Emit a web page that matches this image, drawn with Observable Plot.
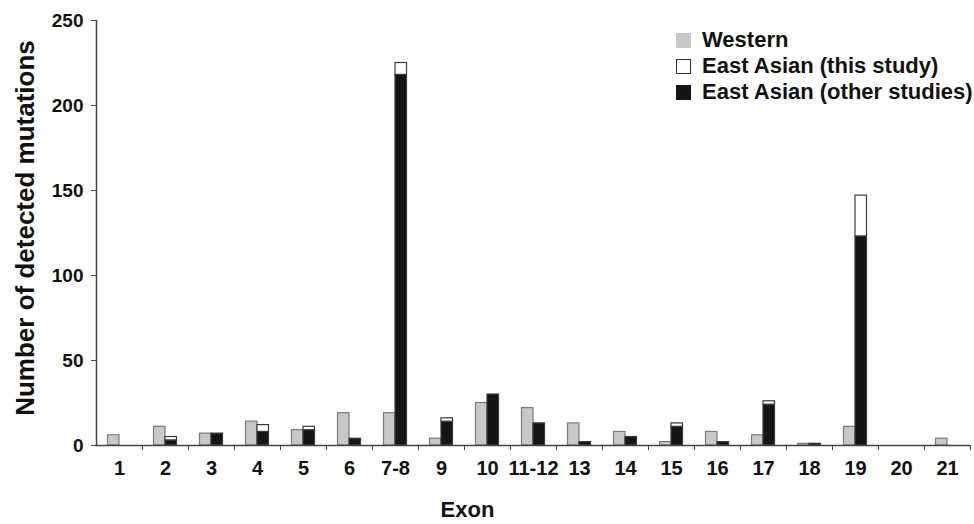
<!DOCTYPE html>
<html>
<head>
<meta charset="utf-8">
<script src="https://cdn.jsdelivr.net/npm/d3@7"></script>
<script src="https://cdn.jsdelivr.net/npm/@observablehq/plot@0.6"></script>
<style>
  html, body { margin: 0; padding: 0; background: #fff; overflow: hidden; }
  #wrap { position: relative; width: 974px; height: 524px; font-family: "Liberation Sans", Arial, sans-serif; }
  #legend { position: absolute; left: 676px; top: 27px; font-weight: bold; font-size: 22px; color: #111; white-space: nowrap; }
  .row { display: flex; align-items: center; height: 26px; }
  .sw { width: 15px; height: 15px; box-sizing: border-box; margin-right: 11px; }
</style>
</head>
<body>
<div id="wrap"></div>
<script>
// ---- data ----
const exons = ["1","2","3","4","5","6","7-8","9","10","11-12","13","14","15","16","17","18","19","20","21"];
const western      = [6, 11, 7, 14, 9, 19, 19, 4, 25, 22, 13, 8, 2, 8, 6, 1, 11, 0, 4];
const otherStudies = [0, 3, 7, 8, 9, 4, 218, 14, 30, 13, 2, 5, 11, 2, 24, 1, 123, 0, 0];
const thisStudy    = [0, 2, 0, 4, 2, 0, 7, 2, 0, 0, 0, 0, 2, 0, 2, 0, 24, 0, 0];
const yTicks = [0, 50, 100, 150, 200, 250];
const seriesNames = ["Western", "East Asian (this study)", "East Asian (other studies)"];
const seriesColors = ["#c8c8c8", "#ffffff", "#151515"];
const yTitle = "Number of detected mutations";
const xTitle = "Exon";

// ---- build tables ----
const westRows = exons.map((e, i) => ({exon: e, series: seriesNames[0], value: western[i]}));
const eaRows = [];
exons.forEach((e, i) => {
  eaRows.push({exon: e, series: seriesNames[2], value: otherStudies[i]});
  eaRows.push({exon: e, series: seriesNames[1], value: thisStudy[i]});
});

const W = 974, H = 524, mL = 96, mR = 4, mT = 20, mB = 79;
const step = (W - mL - mR) / exons.length;
const bw = step / 4;
const font = "'Liberation Sans', Arial, sans-serif";

const chart = Plot.plot({
  width: W, height: H,
  marginLeft: mL, marginRight: mR, marginTop: mT, marginBottom: mB,
  style: {fontFamily: font, background: "#fff", color: "#111"},
  x: {domain: exons, padding: 0, axis: null},
  y: {domain: [0, 250], axis: null},
  color: {domain: seriesNames, range: seriesColors},
  marks: [
    Plot.barY(westRows, {x: "exon", y: "value", fill: "series", stroke: "#7a7a7a", strokeWidth: 1.2,
      insetLeft: bw, insetRight: 2 * bw}),
    Plot.barY(eaRows, Plot.stackY({x: "exon", y: "value", fill: "series", stroke: "#3a3a3a", strokeWidth: 1.2,
      insetLeft: 2 * bw, insetRight: bw})),
    Plot.frame({anchor: "left", stroke: "#444", strokeWidth: 1.5}),
    Plot.ruleY([0], {stroke: "#444", strokeWidth: 1.5}),
    Plot.axisY({ticks: yTicks, tickSize: 5, tickPadding: 8, label: null, fontSize: 19, fontWeight: "bold", stroke: "#444"}),
    Plot.axisX({anchor: "bottom", tickSize: 0, tickPadding: 15, label: null, fontSize: 20, fontWeight: "bold"}),
    Plot.axisX({anchor: "bottom", tickSize: 5, tickFormat: () => "", label: null, dx: step / 2, stroke: "#444"}),
    Plot.text([yTitle], {text: d => d, frameAnchor: "left", textAnchor: "middle", rotate: -90, dx: -71, dy: -5,
      fontSize: 26, fontWeight: "bold", fill: "#111"}),
    Plot.text([xTitle], {text: d => d, frameAnchor: "bottom", textAnchor: "middle", dx: -66, dy: 71,
      fontSize: 22, fontWeight: "bold", fill: "#111"})
  ]
});

const wrap = document.getElementById("wrap");
wrap.appendChild(chart);

// legend
const legend = document.createElement("div");
legend.id = "legend";
seriesNames.forEach((name, i) => {
  const row = document.createElement("div");
  row.className = "row";
  const sw = document.createElement("div");
  sw.className = "sw";
  sw.style.background = seriesColors[i];
  if (i === 1) sw.style.border = "1.5px solid #333";
  const t = document.createElement("span");
  t.textContent = name;
  row.appendChild(sw);
  row.appendChild(t);
  legend.appendChild(row);
});
wrap.appendChild(legend);
</script>
</body>
</html>
